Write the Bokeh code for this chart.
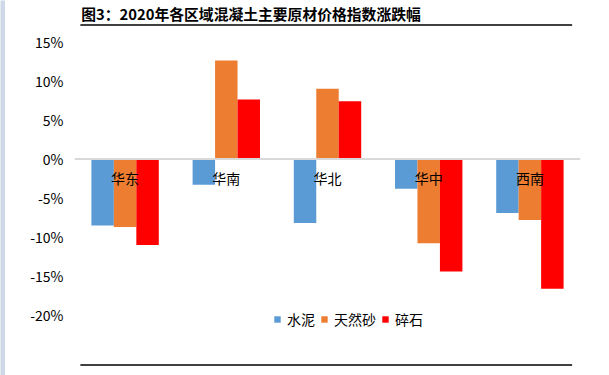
from bokeh.plotting import figure
from bokeh.layouts import row, column
from bokeh.models import (ColumnDataSource, FixedTicker, PrintfTickFormatter, Span,
                          Legend, LegendItem, FactorRange, Range1d)
from bokeh.transform import dodge
from bokeh.core.properties import value
from bokeh.embed import file_html
from bokeh.resources import INLINE

# ---- data ----
regions = ["华东", "华南", "华北", "华中", "西南"]
cement = [-8.5, -3.3, -8.2, -3.8, -6.9]
sand = [-8.7, 12.6, 9.0, -10.8, -7.8]
gravel = [-11.0, 7.6, 7.4, -14.4, -16.6]
series_names = ["水泥", "天然砂", "碎石"]
colors = ["#5B9BD5", "#ED7D31", "#FF0000"]
yticks = [-20, -15, -10, -5, 0, 5, 10, 15]
title_text = "图3：2020年各区域混凝土主要原材价格指数涨跌幅"

FONT = "Noto Sans CJK SC"
STRIP = "#CED8E8"


def bare(fig):
    fig.outline_line_color = None
    fig.xgrid.visible = False
    fig.ygrid.visible = False
    fig.background_fill_color = "white"
    fig.border_fill_color = "white"
    return fig


# left strip
strip = bare(figure(width=5, height=375, output_backend="svg", toolbar_location=None,
                    x_axis_location=None, y_axis_location=None,
                    min_border=0, min_border_left=0, min_border_right=0,
                    min_border_top=0, min_border_bottom=0))
strip.background_fill_color = STRIP
strip.border_fill_color = STRIP

# title band
top = bare(figure(width=604, height=30, x_range=Range1d(5, 609), y_range=Range1d(30, 0),
                  output_backend="svg", toolbar_location=None,
                  x_axis_location=None, y_axis_location=None,
                  min_border=0, min_border_left=0, min_border_right=0,
                  min_border_top=0, min_border_bottom=0))
top.text(x=[13], y=[13], text=[title_text], text_font=value(FONT), text_font_size="14.8px",
         text_font_style="bold", text_color="black", text_baseline="middle", text_align="left")
top.segment(x0=[12], x1=[599], y0=[24.5], y1=[24.5], line_color="black", line_width=1.5)

# main chart
src = ColumnDataSource(dict(region=regions, cement=cement, sand=sand, gravel=gravel,
                            label_y=[-2.45] * len(regions)))

p = bare(figure(width=604, height=325,
                x_range=FactorRange(factors=regions, range_padding=0),
                y_range=Range1d(-25.16, 16.45),
                output_backend="svg", toolbar_location=None, x_axis_location=None,
                min_border_left=69, min_border_right=29, min_border_top=0, min_border_bottom=0))

bw = 0.222
renderers = []
for i, (col, c) in enumerate(zip(["cement", "sand", "gravel"], colors)):
    r = p.vbar(x=dodge("region", (i - 1) * bw, range=p.x_range), top=col, bottom=0,
               width=bw, source=src, fill_color=c, line_color=None)
    renderers.append(r)

p.add_layout(Span(location=0, dimension="width", line_color="#D9D9D9", line_width=2))

p.text(x="region", y="label_y", text="region", source=src, text_align="center",
       text_baseline="middle", text_font=value(FONT), text_font_size="14px", text_color="black")

ax = p.yaxis[0]
ax.ticker = FixedTicker(ticks=yticks)
ax.formatter = PrintfTickFormatter(format="%d%%")
ax.axis_line_color = None
ax.major_tick_line_color = None
ax.minor_tick_line_color = None
ax.major_tick_out = 0
ax.major_tick_in = 0
ax.major_label_standoff = 11
ax.major_label_text_font = FONT
ax.major_label_text_font_size = "14px"
ax.major_label_text_color = "black"

legend = Legend(items=[LegendItem(label=n, renderers=[r]) for n, r in zip(series_names, renderers)],
                orientation="horizontal", location=(199, 26),
                glyph_width=8, glyph_height=8, label_standoff=6, spacing=5,
                padding=0, margin=0, border_line_color=None, background_fill_alpha=0,
                label_text_font=FONT, label_text_font_size="14px", label_text_color="black",
                label_height=14)
p.add_layout(legend, "center")

# bottom band
bottom = bare(figure(width=604, height=20, x_range=Range1d(5, 609), y_range=Range1d(375, 355),
                     output_backend="svg", toolbar_location=None,
                     x_axis_location=None, y_axis_location=None,
                     min_border=0, min_border_left=0, min_border_right=0,
                     min_border_top=0, min_border_bottom=0))
bottom.segment(x0=[12], x1=[599], y0=[364.5], y1=[364.5], line_color="black", line_width=1.5)

layout = row(strip, column(top, p, bottom, spacing=0), spacing=0)

open("out.html", "w").write(file_html(layout, INLINE))
